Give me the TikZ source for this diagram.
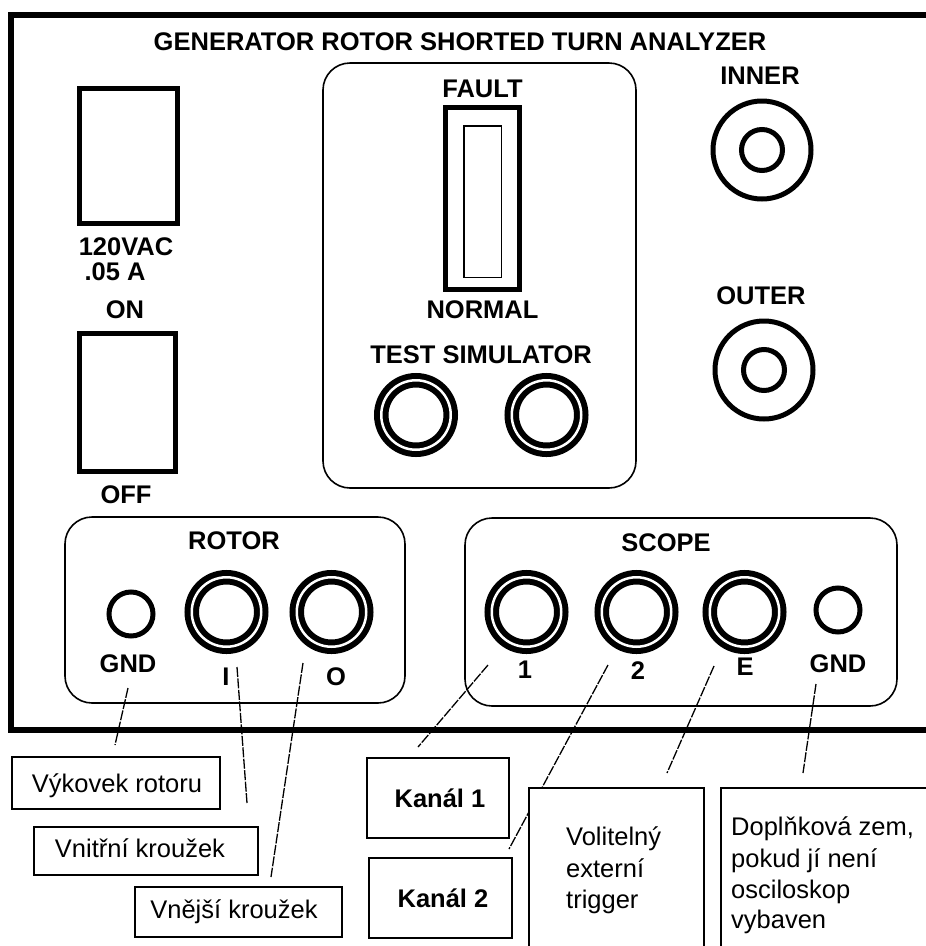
\documentclass[tikz,border=0pt]{standalone}
\usepackage{fontspec}
\setmainfont{Liberation Sans}
\begin{document}
\begin{tikzpicture}[x=1pt,y=-1pt,
  lbl/.style={font=\fontsize{25.5}{31.5}\selectfont\bfseries, inner sep=0pt, anchor=base},
  note/.style={font=\fontsize{25.5}{31.5}\selectfont, inner sep=0pt, anchor=base},
  notel/.style={font=\fontsize{25.5}{31.5}\selectfont, inner sep=0pt, anchor=base west},
  frameline/.style={line width=5.5pt},
  panel/.style={line width=1.6pt, rounded corners=27pt},
  swbox/.style={draw, line width=5pt, inner sep=0pt},
  jack/.style={draw, circle, inner sep=0pt, minimum size=69.5pt, line width=6pt, double=white, double distance=2.5pt},
  smalljack/.style={draw, circle, inner sep=0pt, minimum size=44pt, line width=5pt},
  coaxout/.style={draw, circle, inner sep=0pt, minimum size=98pt, line width=5pt},
  coaxin/.style={draw, circle, inner sep=0pt, minimum size=41pt, line width=5pt},
  notebox/.style={draw, fill=white, line width=1.6pt, inner sep=0pt},
  conn/.style={line width=1.3pt, dash pattern=on 10pt off 1.5pt}
]
\useasboundingbox (0,0) rectangle (926,946);
\fill[white] (0,0) rectangle (926,946);
\clip (0,0) rectangle (926,946);

% outer frame
\draw[frameline] (940,15) -- (11,15) -- (11,730) -- (940,730);

% title
\node[lbl] (title) at (460,50) {GENERATOR ROTOR SHORTED TURN ANALYZER};

% power switches
\node[swbox, minimum width=98pt, minimum height=135pt] (sw1) at (128.5,156) {};
\node[lbl] (v120) at (126,255) {120VAC};
\node[lbl] (amp) at (115,280) {.05 A};
\node[lbl] (on) at (125,318) {ON};
\node[swbox, minimum width=96pt, minimum height=138pt] (sw2) at (127.2,402.7) {};
\node[lbl] (off) at (126,503) {OFF};

% centre panel
\draw[panel] (323,63) rectangle (636,488);
\node[lbl] (fault) at (482.5,97) {FAULT};
\node[swbox, minimum width=74pt, minimum height=182pt] (meter) at (482.5,198.5) {};
\node[draw, line width=1.5pt, inner sep=0pt, minimum width=37.5pt, minimum height=151.5pt] (meterin) at (482.5,201.5) {};
\node[lbl] (normal) at (482.5,318) {NORMAL};
\node[lbl] (testsim) at (481,363) {TEST SIMULATOR};
\node[jack] (ts1) at (416,415) {};
\node[jack] (ts2) at (546.5,415) {};

% inner / outer
\node[lbl] (inner) at (760,84) {INNER};
\node[coaxout] (innerO) at (762,150) {};
\node[coaxin] (innerI) at (762,150) {};
\node[lbl] (outer) at (761,304) {OUTER};
\node[coaxout] (outerO) at (764,370) {};
\node[coaxin] (outerI) at (764,370) {};

% rotor panel
\draw[panel] (65,517) rectangle (405,703);
\node[lbl] (rotor) at (234,549) {ROTOR};
\node[smalljack] (rg) at (131,614) {};
\node[jack] (rI) at (226.5,612) {};
\node[jack] (rO) at (331.5,612) {};
\node[lbl] (rgl) at (128,672) {GND};
\node[lbl] (rIl) at (226,685) {I};
\node[lbl] (rOl) at (336,685) {O};

% scope panel
\draw[panel] (465,518) rectangle (897,706);
\node[lbl] (scope) at (666,551) {SCOPE};
\node[jack] (s1) at (526.5,612) {};
\node[jack] (s2) at (636.5,612) {};
\node[jack] (sE) at (744.5,612) {};
\node[smalljack] (sg) at (838,610) {};
\node[lbl] (s1l) at (525,678) {1};
\node[lbl] (s2l) at (638,679) {2};
\node[lbl] (sEl) at (745,675) {E};
\node[lbl] (sgl) at (838,672) {GND};

% connectors
\coordinate (a1) at (128,688); \coordinate (b1) at (115,745);
\coordinate (a2) at (237,667); \coordinate (b2) at (247,803);
\coordinate (a3) at (303,663); \coordinate (b3) at (271,877);
\coordinate (a4) at (488,665); \coordinate (b4) at (418,747);
\coordinate (a5) at (608,665); \coordinate (b5) at (509,849);
\coordinate (a6) at (714,666); \coordinate (b6) at (667,773);
\coordinate (a7) at (816,684); \coordinate (b7) at (803,773);
\draw[conn] (a1) -- (b1);
\draw[conn] (a2) -- (b2);
\draw[conn] (a3) -- (b3);
\draw[conn] (a4) -- (b4);
\draw[conn] (a5) -- (b5);
\draw[conn] (a6) -- (b6);
\draw[conn] (a7) -- (b7);

% note boxes
\node[notebox, minimum width=208pt, minimum height=52pt] (bx1) at (116,783) {};
\node[note] (t1) at (117,792) {Výkovek rotoru};
\node[notebox, minimum width=224pt, minimum height=48pt] (bx2) at (146,851) {};
\node[note] (t2) at (140,857) {Vnitřní kroužek};
\node[notebox, minimum width=207pt, minimum height=50pt] (bx3) at (238.5,912) {};
\node[note] (t3) at (234,918) {Vnější kroužek};
\node[notebox, minimum width=142pt, minimum height=80pt] (bx4) at (438,798) {};
\node[lbl] (t4) at (440,807) {Kanál 1};
\node[notebox, minimum width=143pt, minimum height=80pt] (bx5) at (440.5,898) {};
\node[lbl] (t5) at (443,907) {Kanál 2};
\node[notebox, minimum width=175pt, minimum height=200pt] (bx6) at (616.5,888) {};
\node[notel] (t6a) at (566,845) {Volitelný};
\node[notel] (t6b) at (566,877) {externí};
\node[notel] (t6c) at (566,908) {trigger};
\node[notebox, minimum width=230pt, minimum height=200pt] (bx7) at (836,888) {};
\node[notel] (t7a) at (731,835) {Doplňková zem,};
\node[notel] (t7b) at (731,867) {pokud jí není};
\node[notel] (t7c) at (731,898) {osciloskop};
\node[notel] (t7d) at (731,928) {vybaven};
\end{tikzpicture}
\end{document}
